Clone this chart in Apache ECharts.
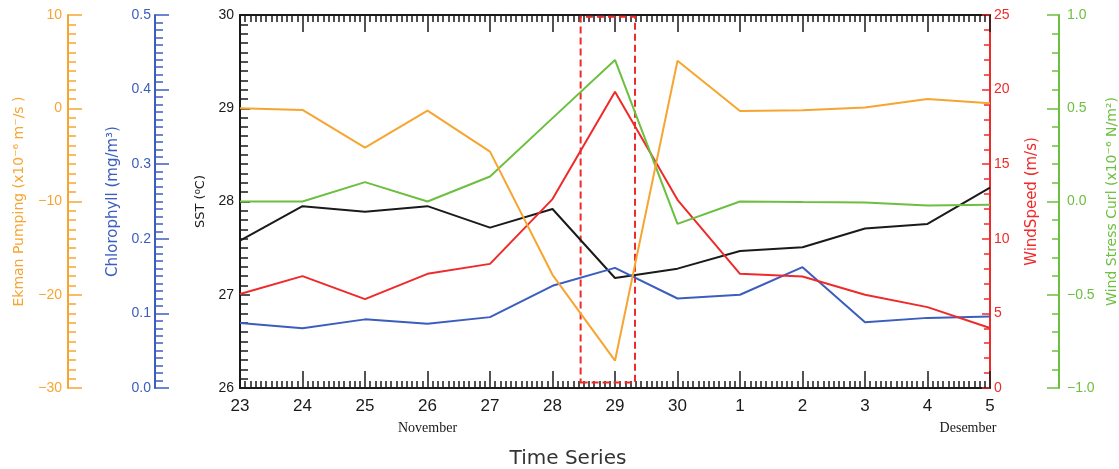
<!DOCTYPE html>
<html>
<head>
<meta charset="utf-8">
<style>
  html, body { margin: 0; padding: 0; background: #fff; }
  #chart { width: 1119px; height: 469px; }
</style>
<script src="https://cdn.jsdelivr.net/npm/echarts@6/dist/echarts.min.js"></script>
</head>
<body>
<div id="chart"></div>
<script>
// Daily series, 23 November – 5 December
const dayLabels = ['23', '24', '25', '26', '27', '28', '29', '30', '1', '2', '3', '4', '5'];
const monthNotes = [{ day: 3, text: 'November' }, { day: 12, text: 'Desember' }];

const sst = [27.58, 27.95, 27.89, 27.95, 27.72, 27.92, 27.18, 27.28, 27.47, 27.51, 27.71, 27.76, 28.15];
const windSpeed = [6.3, 7.5, 5.96, 7.65, 8.32, 12.66, 19.86, 12.61, 7.65, 7.47, 6.25, 5.42, 4.02];
const chlorophyll = [0.087, 0.080, 0.092, 0.086, 0.095, 0.137, 0.161, 0.120, 0.125, 0.162, 0.088, 0.094, 0.096];
const windStressCurl = [0.0, 0.0, 0.104, 0.0, 0.134, 0.447, 0.759, -0.120, 0.0, -0.003, -0.005, -0.022, -0.018];
const ekmanPumping = [0.0, -0.18, -4.22, -0.25, -4.65, -17.86, -27.07, 5.10, -0.29, -0.21, 0.07, 1.0, 0.54];

// Highlighted period around the peak of the event (day index span)
const highlightSpan = [5.45, 6.32];

const C = {
  black: '#1a1a1a',
  orange: '#F7A531',
  blue: '#3B5EBE',
  red: '#EE2A2A',
  green: '#6CBF3F'
};

const pairs = arr => arr.map((v, i) => [i, v]);
const minus = s => String(s).replace('-', '\u2212');

function yAxisOf(opts) {
  return Object.assign({
    type: 'value',
    nameLocation: 'middle',
    nameRotate: 90,
    splitLine: { show: false },
    axisLine: { show: true, onZero: false, lineStyle: { color: opts.color, width: 2 } },
    axisTick: { show: true, inside: true, length: opts.major, lineStyle: { color: opts.color, width: 1.5 } },
    minorTick: { show: true, splitNumber: opts.minor, length: opts.minorLen, lineStyle: { color: opts.color, width: 1.5 } },
    axisLabel: {
      color: opts.color, fontFamily: 'Liberation Sans', fontSize: 14, margin: opts.margin,
      formatter: opts.fmt
    },
    nameTextStyle: { color: opts.color, fontFamily: 'DejaVu Sans', fontSize: opts.nameSize }
  }, opts.extra);
}

const chart = echarts.init(document.getElementById('chart'), null, { renderer: 'canvas' });

const xCommon = {
  type: 'value',
  min: 0,
  max: dayLabels.length - 1,
  interval: 1,
  splitLine: { show: false },
  axisLine: { show: true, onZero: false, lineStyle: { color: C.black, width: 2 } },
  axisTick: { show: true, inside: true, length: 17, lineStyle: { color: C.black, width: 1.5 } },
  minorTick: { show: true, splitNumber: 12, length: 7, lineStyle: { color: C.black, width: 1.5 } }
};

chart.setOption({
  animation: false,
  backgroundColor: '#fff',
  grid: { left: 240, right: 129, top: 15, bottom: 81, outerBoundsMode: 'none', containLabel: false },
  xAxis: [
    Object.assign({}, xCommon, {
      position: 'bottom',
      axisLabel: {
        color: C.black, fontFamily: 'Liberation Sans', fontSize: 17, margin: 10,
        formatter: v => dayLabels[v] || ''
      }
    }),
    Object.assign({}, xCommon, { position: 'top', axisLabel: { show: false } })
  ],
  yAxis: [
    yAxisOf({
      color: C.black, major: 10, minor: 10, minorLen: 8, margin: 6, nameSize: 13,
      extra: { name: 'SST (\u2070C)', nameGap: 33, position: 'left', min: 26, max: 30, interval: 1 }
    }),
    yAxisOf({
      color: C.blue, major: 14, minor: 10, minorLen: 8, margin: 4, nameSize: 15,
      fmt: v => v.toFixed(1),
      extra: { name: 'Chlorophyll (mg/m\u00b3)', nameGap: 34, position: 'left', offset: 85, min: 0, max: 0.5, interval: 0.1 }
    }),
    yAxisOf({
      color: C.orange, major: 14, minor: 10, minorLen: 8, margin: 6, nameSize: 14,
      fmt: v => minus(v),
      extra: { name: 'Ekman Pumping (x10\u207b\u2076 m\u207b/s )', nameGap: 42, position: 'left', offset: 172, min: -30, max: 10, interval: 10 }
    }),
    yAxisOf({
      color: C.red, major: 8, minor: 5, minorLen: 6, margin: 4, nameSize: 15,
      extra: { name: 'WindSpeed (m/s)', nameGap: 35, position: 'right', min: 0, max: 25, interval: 5 }
    }),
    yAxisOf({
      color: C.green, major: 12, minor: 5, minorLen: 7, margin: 8, nameSize: 14,
      fmt: v => minus(v.toFixed(1)),
      extra: { name: 'Wind Stress Curl (x10\u207b\u2076 N/m\u00b2)', nameGap: 46, position: 'right', offset: 69, min: -1, max: 1, interval: 0.5 }
    })
  ],
  series: [
    {
      name: 'SST', type: 'line', yAxisIndex: 0, data: pairs(sst),
      showSymbol: false, lineStyle: { color: C.black, width: 2 }, itemStyle: { color: C.black }, z: 3,
      markArea: {
        silent: true,
        itemStyle: { color: 'rgba(0,0,0,0)', borderColor: C.red, borderWidth: 2, borderType: [7, 4] },
        data: [[{ xAxis: highlightSpan[0], yAxis: 26.06 }, { xAxis: highlightSpan[1], yAxis: 29.98 }]]
      }
    },
    {
      name: 'Chlorophyll', type: 'line', yAxisIndex: 1, data: pairs(chlorophyll),
      showSymbol: false, lineStyle: { color: C.blue, width: 2 }, itemStyle: { color: C.blue }, z: 3
    },
    {
      name: 'Wind Speed', type: 'line', yAxisIndex: 3, data: pairs(windSpeed),
      showSymbol: false, lineStyle: { color: C.red, width: 2 }, itemStyle: { color: C.red }, z: 3
    },
    {
      name: 'Wind Stress Curl', type: 'line', yAxisIndex: 4, data: pairs(windStressCurl),
      showSymbol: false, lineStyle: { color: C.green, width: 2 }, itemStyle: { color: C.green }, z: 3
    },
    {
      name: 'Ekman Pumping', type: 'line', yAxisIndex: 2, data: pairs(ekmanPumping),
      showSymbol: false, lineStyle: { color: C.orange, width: 2 }, itemStyle: { color: C.orange }, z: 3
    }
  ]
});

// Month names under the day labels, plus the axis title
const notes = monthNotes.map((m, i) => {
  const x = chart.convertToPixel({ xAxisIndex: 0 }, m.day);
  return {
    type: 'text',
    x: i === monthNotes.length - 1 ? x - 22 : x,
    y: 428,
    style: {
      text: m.text, fill: C.black, font: '14px "Liberation Serif"',
      align: 'center', verticalAlign: 'middle'
    }
  };
});
notes.push({
  type: 'text', x: 568, y: 459,
  style: { text: 'Time Series', fill: '#333', font: '20px "DejaVu Sans"', align: 'center', verticalAlign: 'middle' }
});
chart.setOption({ graphic: notes });
</script>
</body>
</html>
